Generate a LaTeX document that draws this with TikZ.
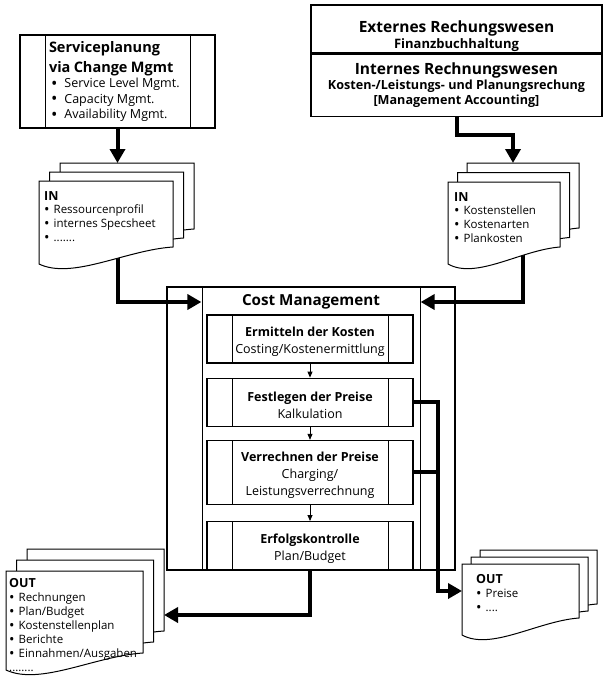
\documentclass[tikz,border=0pt]{standalone}
\usepackage{fontspec}
\setmainfont{Open Sans}
\usepackage{tikz}
\usetikzlibrary{arrows.meta, positioning, calc, backgrounds}
\tikzstyle{box} = [rectangle, draw, line width=1.2pt, align=center, inner sep=0pt]
\tikzset{procbox/.style={box, path picture={
    \draw[line width=1pt] ([xshift=#1]path picture bounding box.north west) -- ([xshift=#1]path picture bounding box.south west);
    \draw[line width=1pt] ([xshift=-#1]path picture bounding box.north east) -- ([xshift=-#1]path picture bounding box.south east);}},
  procbox/.default=25pt}
\tikzstyle{stage} = [minimum width=206pt, minimum height=48pt, font=\fontsize{12.5}{17}\selectfont]
\tikzstyle{docnode} = [rectangle, anchor=north west, align=left, inner xsep=5pt, inner ysep=10pt, font=\fontsize{11.5}{14}\selectfont]
\tikzstyle{page} = [draw, fill=white, line width=1pt]
\tikzstyle{bigpath} = [draw, line width=4pt]
\tikzstyle{bigline} = [bigpath, -{Triangle[length=14pt,width=15pt]}]
\tikzstyle{smallline} = [draw, line width=0.8pt, -{Triangle[length=6pt,width=5pt]}]
\newcommand{\itm}{\hspace*{2pt}{\fontsize{17}{15}\selectfont\raisebox{-1.3pt}{\textbullet}}\hspace{7pt}}
\newcommand{\dit}{{\fontsize{14.5}{14}\selectfont\raisebox{-0.9pt}{\textbullet}}\hspace{4pt}}
\newcommand{\doctitle}[1]{{\fontsize{12.5}{14}\selectfont\bfseries #1}}
% one sheet with a wavy lower edge: x, y, width, height
\newcommand{\docpage}[4]{%
  \draw[page] (#1,#2) -- ++(#3,0) -- ++(0,#4)
    .. controls +(-0.35*#3,3) and +(0.25*#3,16) .. ++(-#3,17) -- cycle;}
% three sheets: x, y, width, height, dx, dy
\newcommand{\docstack}[6]{%
  \foreach \k in {2,1,0}{\docpage{#1+\k*#5}{#2-\k*#6}{#3}{#4}}}

\begin{document}
\begin{tikzpicture}[x=1pt, y=-1pt]
    \useasboundingbox (0,0) rectangle (603,680);

    % Nodes
    \node (serv) [procbox, minimum width=195pt, minimum height=93pt, text width=137pt, align=left] at (117.5,81.5)
        {{\fontsize{14.5}{20}\selectfont\bfseries Serviceplanung\\via Change Mgmt\par}
         {\fontsize{12.5}{15.5}\selectfont\itm Service Level Mgmt.\\\itm Capacity Mgmt.\\\itm Availability Mgmt.\par}};
    \node (ext) [box, minimum width=291pt, minimum height=48pt, font=\fontsize{13}{16}\selectfont\bfseries] at (456.5,29)
        {\rule{0pt}{26pt}{\fontsize{15.5}{18}\selectfont Externes Rechungswesen}\\Finanzbuchhaltung};
    \node (int) [box, minimum width=291pt, minimum height=62pt, below=0pt of ext, font=\fontsize{12.6}{15}\selectfont\bfseries]
        {{\fontsize{15.5}{18}\selectfont Internes Rechnungswesen}\\Kosten-/Leistungs- und Planungsrechung\\{[}Management Accounting]};

    \node (cm) [procbox=35pt, minimum width=288pt, minimum height=283pt] at (311,428.5) {};
    \coordinate (cmL) at ([xshift=35pt]cm.west);
    \coordinate (cmR) at ([xshift=-35pt]cm.east);
    \node (cmtitle) [font=\fontsize{15.2}{19}\selectfont\bfseries] at (311,302) {Cost Management};
    \node (b1) [procbox, stage] at (310,339) {\rule{0pt}{15pt}\textbf{Ermitteln der Kosten}\\Costing/Kostenermittlung};
    \node (b2) [procbox, stage, below=14pt of b1] {\rule{0pt}{15pt}\textbf{Festlegen der Preise}\\Kalkulation};
    \node (b3) [procbox, stage, minimum height=64pt, below=13pt of b2] {\rule{0pt}{15pt}\textbf{Verrechnen der Preise}\\Charging/\\Leistungsverrechnung};
    \node (b4) [procbox, stage, minimum height=49pt, below=16pt of b3] {\rule{0pt}{15pt}\textbf{Erfolgskontrolle}\\Plan/Budget};

    \docstack{39}{181}{134}{66}{10.5}{9}
    \node (inSrv) [docnode] at (39,181)
        {\doctitle{IN}\\[-1pt]\dit Ressourcenprofil\\\dit internes Specsheet\\\dit .......};
    \docstack{448}{182}{112}{65}{9.5}{9.5}
    \node (inAcc) [docnode, inner xsep=6pt] at (448,182)
        {\doctitle{IN}\\[-1pt]\dit Kostenstellen\\\dit Kostenarten\\\dit Plankosten};
    \docstack{6}{571}{137}{82}{10.5}{11}
    \node (outRep) [docnode, inner xsep=3pt, inner ysep=7pt] at (6,571)
        {\doctitle{OUT}\\\dit Rechnungen\\\dit Plan/Budget\\\dit Kostenstellenplan\\\dit Berichte\\\dit Einnahmen/Ausgaben\\........};
    \docstack{462}{564}{117}{54}{9}{7}
    \node (outPrice) [docnode, inner xsep=14pt] at (462,564)
        {\doctitle{OUT}\\\dit Preise\\\dit ....};

    % Paths
    \draw [smallline] (b1) -- (b2);
    \draw [smallline] (b2) -- (b3);
    \draw [smallline] (b3) -- (b4);
    \begin{pgfonlayer}{background}
        \draw [bigline] (serv.south) -- ($(serv.south |- inSrv.north west)+(0,-18)$);
        \draw [bigline] (int.south) -- ++(0,18) -| ($(inAcc.north west)+(65,-19)$);
        \draw [bigline] ($(serv.south |- inSrv.north west)+(0,40)$) |- (cmtitle -| cmL);
        \draw [bigline] ($(inAcc.north west)+(75,40)$) |- (cmtitle -| cmR);
        \draw [bigline] (b2.east) -- ++(24,0) |- ([yshift=-27pt]outPrice.north west);
        \draw [bigpath] (b3.east) -- ++(24,0);
        \draw [bigline] (b4.south) |- ([xshift=158pt, yshift=-44pt]outRep.north west);
    \end{pgfonlayer}
\end{tikzpicture}
\end{document}
